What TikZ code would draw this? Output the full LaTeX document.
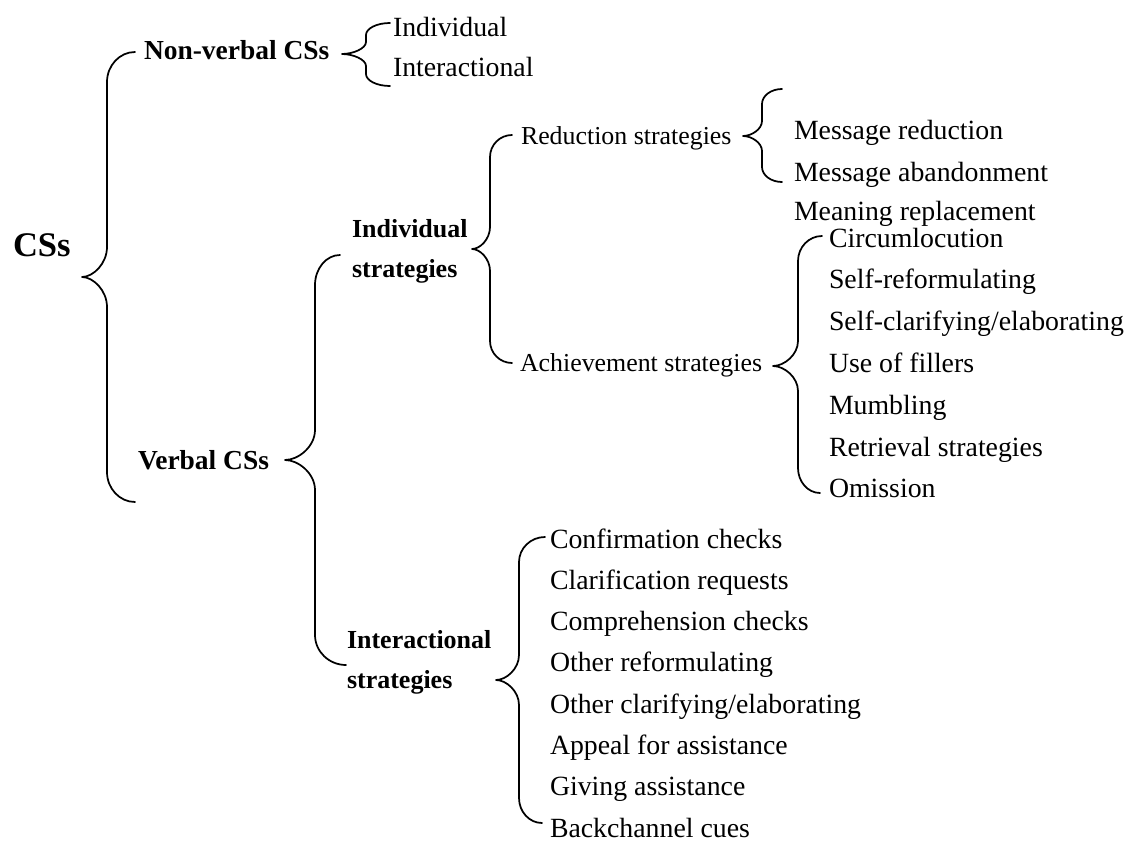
\documentclass[tikz,border=0pt]{standalone}
\usepackage{fontspec}
\setmainfont{Liberation Serif}
\newcommand\fsTop{\fontsize{25.9pt}{30pt}\selectfont\bfseries}
\newcommand\fsOne{\fontsize{20.6pt}{24pt}\selectfont\bfseries}
\newcommand\fsTwo{\fontsize{19.5pt}{23pt}\selectfont\bfseries}
\newcommand\fsThree{\fontsize{19.4pt}{23pt}\selectfont}
\newcommand\fsLeaf{\fontsize{20.85pt}{24pt}\selectfont}
% tipx, midy, spinex, topy, boty, topend, botend, r
\newcommand\drawbrace[8]{%
\draw[brc] (#6,#4) .. controls ({#3+0.45*(#6-#3)},#4) and (#3,{#4+0.45*#8}) .. (#3,{#4+#8})
 -- (#3,{#2-#8}) .. controls (#3,{#2-0.45*#8}) and ({#3-0.55*(#3-#1)},#2) .. (#1,#2)
 .. controls ({#3-0.55*(#3-#1)},#2) and (#3,{#2+0.45*#8}) .. (#3,{#2+#8})
 -- (#3,{#5-#8}) .. controls (#3,{#5-0.45*#8}) and ({#3+0.45*(#7-#3)},#5) .. (#7,#5);}
\begin{document}
\begin{tikzpicture}[x=0.75pt,y=-0.75pt,
  brc/.style={line width=1.3pt,line cap=round,line join=round},
  lbl/.style={inner sep=0pt,outer sep=0pt,anchor=base west},
  top/.style={lbl,font=\fsTop},
  one/.style={lbl,font=\fsOne},
  two/.style={lbl,font=\fsTwo},
  three/.style={lbl,font=\fsThree},
  leaf/.style={lbl,font=\fsLeaf}]
\useasboundingbox (0,0) rectangle (1129,842);

% texts
\node[top] (css) at (13,256) {CSs};
\node[one] (nv) at (144,60) {Non-verbal CSs};
\node[one] (vb) at (138,469) {Verbal CSs};
\node[leaf] (nvi) at (393,37) {Individual};
\node[leaf] (nvx) at (393,77) {Interactional};
\node[two] (is1) at (352,237) {Individual};
\node[two] (is2) at (352,277) {strategies};
\node[two] (xs1) at (347,648) {Interactional};
\node[two] (xs2) at (347,688) {strategies};
\node[three] (red) at (521,145) {Reduction strategies};
\node[three] (ach) at (520,371) {Achievement strategies};
\node[leaf] (r1) at (794,139) {Message reduction};
\node[leaf] (r2) at (794,181) {Message abandonment};
\node[leaf] (r3) at (794,220) {Meaning replacement};
\foreach \t [count=\i from 0] in {Circumlocution,Self-reformulating,Self-clarifying/elaborating,Use of fillers,Mumbling,Retrieval strategies,Omission}
  \node[leaf] (a\i) at (829,{247+41.8*\i}) {\t};
\foreach \t [count=\i from 0] in {Confirmation checks,Clarification requests,Comprehension checks,Other reformulating,Other clarifying/elaborating,Appeal for assistance,Giving assistance,Backchannel cues}
  \node[leaf] (c\i) at (550,{548+41.3*\i}) {\t};

% braces
\drawbrace{82}{277}{107}{52}{502}{135}{135}{30}
\drawbrace{342}{54}{366}{23}{86}{390}{390}{12}
\drawbrace{285}{460}{315}{255}{665}{340}{346}{30}
\drawbrace{472}{249}{490}{135}{363}{512}{512}{22}
\drawbrace{496}{680}{519}{537}{823}{545}{542}{25}
\drawbrace{743}{136}{762}{89}{182}{782}{782}{15}
\drawbrace{773}{366}{798}{236}{493}{822}{820}{25}
\end{tikzpicture}
\end{document}
